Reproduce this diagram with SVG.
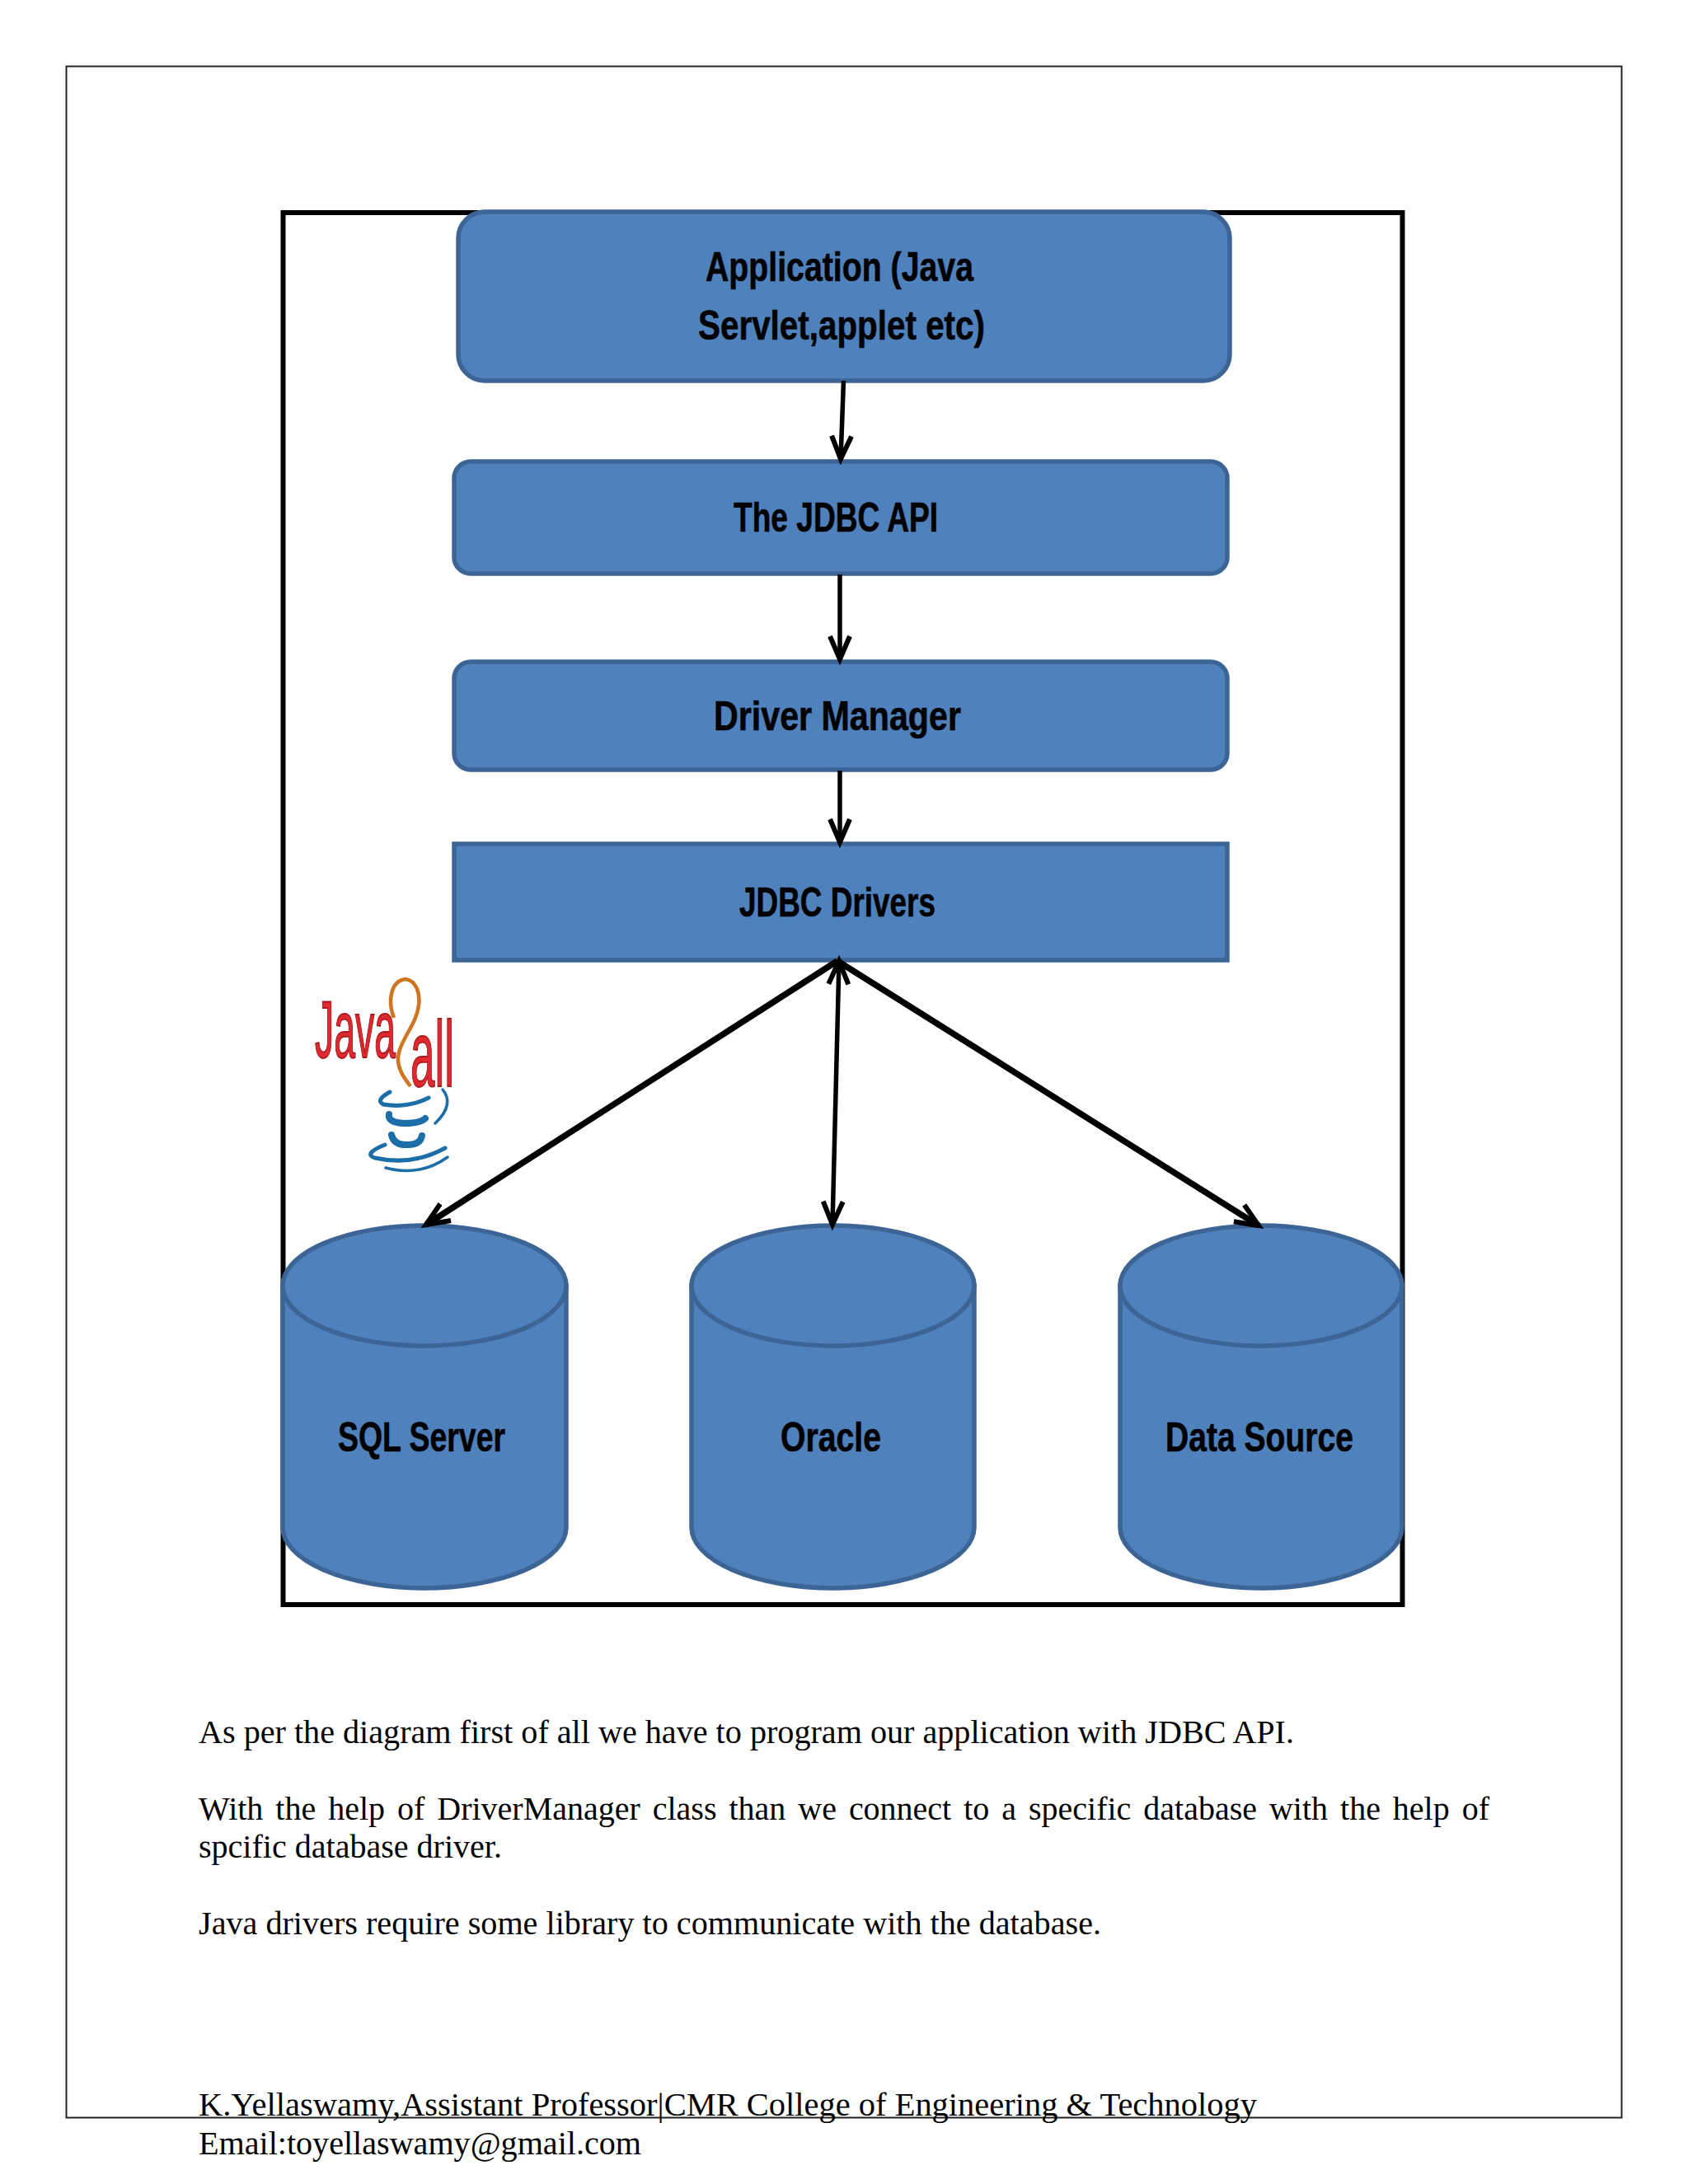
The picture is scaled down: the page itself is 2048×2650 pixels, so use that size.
<svg xmlns="http://www.w3.org/2000/svg" width="2048" height="2650" viewBox="0 0 2048 2650">
<defs>
<style>
.box{fill:#4f81bd;stroke:#3c6495;stroke-width:5.500}
.lbl{font-family:"Liberation Sans",Arial,sans-serif;font-weight:bold;font-size:50px;fill:#000;stroke:#000;stroke-width:.6}
.con{fill:none;stroke:#000;stroke-width:5.500}
.fan{fill:none;stroke:#000;stroke-width:7.500}
.body{font-family:"Liberation Serif","Times New Roman",serif;font-size:40px;fill:#000}
.logo{font-family:"Liberation Sans",Arial,sans-serif;fill:#e0282e;stroke:#a81c20;stroke-width:1.800}
.steam{fill:none;stroke:#1c6ea8;stroke-linecap:round}
</style>
<marker id="v" markerUnits="userSpaceOnUse" markerWidth="44" markerHeight="44" viewBox="-36 -22 44 44" refX="0" refY="0" orient="auto-start-reverse">
<path d="M-28,-12 L0,0 L-28,12" fill="none" stroke="#000" stroke-width="6"/>
</marker>
</defs>
<rect width="2048" height="2650" fill="#fff"/>
<rect id="page-frame" x="80.500" y="80.500" width="1887" height="2489" fill="none" stroke="#222" stroke-width="2"/>
<rect id="diagram-frame" x="343.500" y="258" width="1358" height="1689" fill="none" stroke="#000" stroke-width="6"/>

<g id="node-application"><rect class="box" x="556" y="257" width="936" height="205" rx="32"/>
<text class="lbl" x="856" y="341" textLength="325" lengthAdjust="spacingAndGlyphs">Application (Java</text>
<text class="lbl" x="847" y="412" textLength="348" lengthAdjust="spacingAndGlyphs">Servlet,applet etc)</text></g>
<g id="node-jdbc-api"><rect class="box" x="551" y="560" width="938" height="136" rx="20"/>
<text class="lbl" x="890" y="645" textLength="248" lengthAdjust="spacingAndGlyphs">The JDBC API</text></g>
<g id="node-driver-manager"><rect class="box" x="551" y="803" width="938" height="131" rx="20"/>
<text class="lbl" x="866" y="886" textLength="300" lengthAdjust="spacingAndGlyphs">Driver Manager</text></g>
<g id="node-jdbc-drivers"><rect class="box" x="551" y="1024" width="938" height="141"/>
<text class="lbl" x="897" y="1112" textLength="238" lengthAdjust="spacingAndGlyphs">JDBC Drivers</text></g>

<g id="node-sql-server">
<path class="box" d="M343 1560 V1853 A172 74 0 0 0 687 1853 V1560 Z"/>
<ellipse class="box" cx="515" cy="1560" rx="172" ry="73"/>
<text class="lbl" x="410" y="1761" textLength="203" lengthAdjust="spacingAndGlyphs">SQL Server</text></g>
<g id="node-oracle">
<path class="box" d="M839 1560 V1853 A171.500 74 0 0 0 1182 1853 V1560 Z"/>
<ellipse class="box" cx="1010.500" cy="1560" rx="171.500" ry="73"/>
<text class="lbl" x="947" y="1761" textLength="122" lengthAdjust="spacingAndGlyphs">Oracle</text></g>
<g id="node-data-source">
<path class="box" d="M1359 1560 V1853 A171 74 0 0 0 1701 1853 V1560 Z"/>
<ellipse class="box" cx="1530" cy="1560" rx="171" ry="73"/>
<text class="lbl" x="1414" y="1761" textLength="228" lengthAdjust="spacingAndGlyphs">Data Source</text></g>

<g id="connectors">
<line class="con" x1="1023.500" y1="462" x2="1020" y2="557" marker-end="url(#v)"/>
<line class="con" x1="1019" y1="697" x2="1019" y2="800" marker-end="url(#v)"/>
<line class="con" x1="1019" y1="935" x2="1019" y2="1022" marker-end="url(#v)"/>
<line class="fan" x1="1016" y1="1166" x2="517" y2="1486" marker-end="url(#v)"/>
<line class="con" x1="1018" y1="1166" x2="1010" y2="1486" marker-start="url(#v)" marker-end="url(#v)"/>
<line class="fan" x1="1016" y1="1166" x2="1527" y2="1487" marker-end="url(#v)"/>
</g>

<g id="logo">
<text class="logo" x="382" y="1283" font-size="98" textLength="98" lengthAdjust="spacingAndGlyphs">Java</text>
<text class="logo" x="498" y="1318" font-size="114" textLength="53" lengthAdjust="spacingAndGlyphs">all</text>
<path d="M478 1235 C470 1215 474 1190 492 1188 C505 1190 510 1205 508 1220 C505 1245 482 1265 483 1287 C484 1300 492 1310 498 1318" fill="none" stroke="#cf7420" stroke-width="4.500"/>
<path class="steam" stroke-width="5" d="M473 1325 Q455 1335 465 1340 Q495 1345 520 1332"/>
<path class="steam" stroke-width="3.500" d="M537 1322 Q552 1340 528 1363"/>
<path class="steam" stroke-width="8" d="M472 1352 Q470 1362 490 1363 Q510 1363 516 1357"/>
<path class="steam" stroke-width="8" d="M475 1377 Q478 1390 495 1389 Q510 1389 512 1378"/>
<path class="steam" stroke-width="5" d="M467 1389 Q440 1400 455 1405 Q500 1415 540 1393"/>
<path class="steam" stroke-width="3.500" d="M468 1417 Q510 1428 543 1404"/>
</g>

<g id="caption">
<text class="body" x="241" y="2115" textLength="1329" lengthAdjust="spacingAndGlyphs">As per the diagram first of all we have to program our application with JDBC API.</text>
<text class="body" x="241" y="2208" word-spacing="5" textLength="1566" lengthAdjust="spacingAndGlyphs">With the help of DriverManager class than we connect to a specific database with the help of</text>
<text class="body" x="241" y="2254" textLength="368" lengthAdjust="spacingAndGlyphs">spcific database driver.</text>
<text class="body" x="241" y="2347" textLength="1095" lengthAdjust="spacingAndGlyphs">Java drivers require some library to communicate with the database.</text>
<text class="body" x="241" y="2567" textLength="1284" lengthAdjust="spacingAndGlyphs">K.Yellaswamy,Assistant Professor|CMR College of Engineering &amp; Technology</text>
<text class="body" x="241" y="2614" textLength="537" lengthAdjust="spacingAndGlyphs">Email:toyellaswamy@gmail.com</text>
</g>
</svg>
